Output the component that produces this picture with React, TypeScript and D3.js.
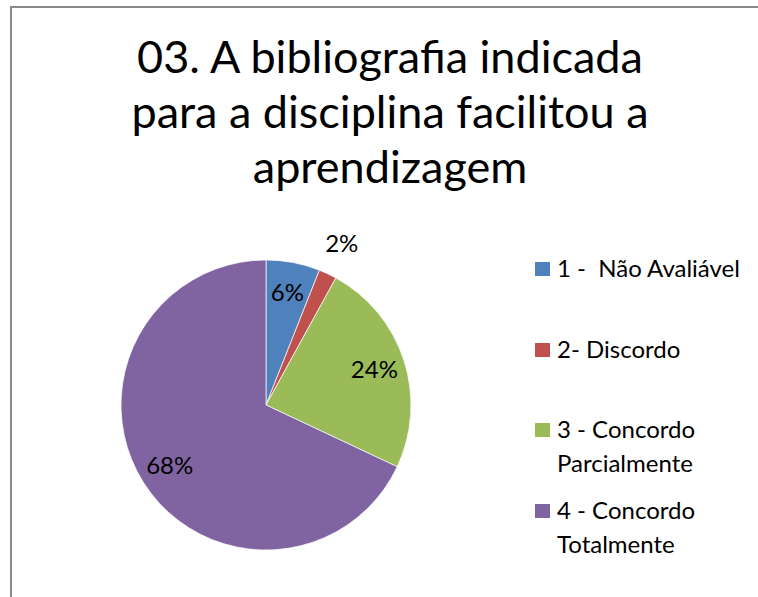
import React from "react";
import * as d3 from "d3";

const titleLines = ["03. A bibliografia indicada", "para a disciplina facilitou a", "aprendizagem"];
const categories = ["1 -  Não Avaliável", "2- Discordo", "3 - Concordo Parcialmente", "4 - Concordo Totalmente"];
const legendLines = [["1 -  Não Avaliável"], ["2- Discordo"], ["3 - Concordo", "Parcialmente"], ["4 - Concordo", "Totalmente"]];
const values = [6, 2, 24, 68];
const colors = ["#4F81BD", "#C0504D", "#9BBB59", "#8064A2"];

const W = 758;
const H = 597;
const FONT = "Lato, 'Open Sans', sans-serif";

export default function App() {
  const cx = 266;
  const cy = 405;
  const R = 145;
  const pie = d3.pie<number>().sort(null).value((d) => d)(values);
  const arc = d3.arc<d3.PieArcDatum<number>>().innerRadius(0).outerRadius(R);
  const labelArc = d3.arc<d3.PieArcDatum<number>>().innerRadius(114).outerRadius(114);
  const outerLabelArc = d3.arc<d3.PieArcDatum<number>>().innerRadius(178).outerRadius(178);

  const legendY = d3.scaleOrdinal<number, number>().domain([0, 1, 2, 3]).range([269, 350, 430, 511]);

  return (
    <svg width={W} height={H} style={{ position: "absolute", left: 0, top: 0, background: "#fff" }} fontFamily={FONT}>
      <rect x={0} y={0} width={W} height={H} fill="#fff" />
      <line x1={11} y1={7} x2={11} y2={H} stroke="#8a8a8a" strokeWidth={2} />
      <line x1={10} y1={7} x2={W} y2={7} stroke="#8a8a8a" strokeWidth={2} />
      {titleLines.map((t, i) => (
        <text key={i} x={390} y={73 + i * 55} textAnchor="middle" fontSize={45} fill="#000">
          {t}
        </text>
      ))}
      <g transform={`translate(${cx},${cy})`}>
        {pie.map((d, i) => (
          <path key={i} d={arc(d) || ""} fill={colors[i]} stroke="#fff" strokeWidth={0.7} />
        ))}
        {pie.map((d, i) => {
          const [x, y] = i === 1 ? outerLabelArc.centroid(d) : labelArc.centroid(d);
          return (
            <text key={"l" + i} x={x} y={y} dy="0.35em" textAnchor="middle" fontSize={24} fill="#000">
              {d.data}%
            </text>
          );
        })}
      </g>
      {categories.map((c, i) => (
        <g key={c} transform={`translate(535,${legendY(i)})`}>
          <rect x={0} y={-7} width={15} height={14} fill={colors[i]} />
          {legendLines[i].map((l, j) => (
            <text key={j} x={22} y={8 + j * 34} fontSize={24} fill="#000" style={{ whiteSpace: "pre" }}>
              {l}
            </text>
          ))}
        </g>
      ))}
    </svg>
  );
}
